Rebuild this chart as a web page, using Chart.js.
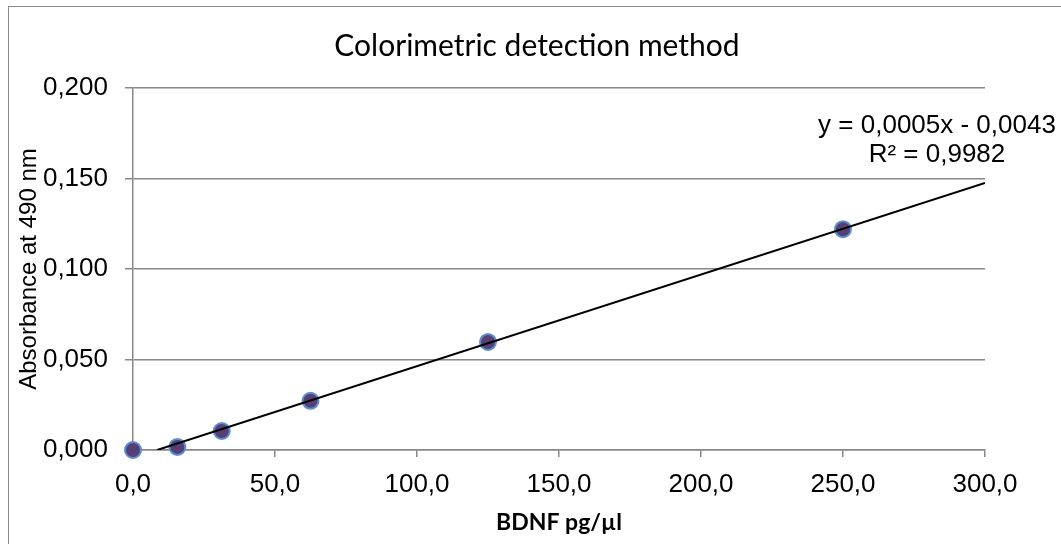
<!DOCTYPE html>
<html>
<head>
<meta charset="utf-8">
<script src="https://cdn.jsdelivr.net/npm/chart.js@4.4.1/dist/chart.umd.min.js"></script>
<style>
  html, body { margin: 0; padding: 0; background: #fff; }
  #wrap { width: 1061px; height: 544px; position: relative; }
</style>
</head>
<body>
<div id="wrap"><canvas id="chart" width="1061" height="544"></canvas></div>
<script>
// standard curve values
var concX = [0, 15.625, 31.25, 62.5, 125, 250];
var absY = [0, 0.0017, 0.0105, 0.0272, 0.0597, 0.122];
// trendline ends (as drawn in the picture)
var trendX = [8.5, 300];
var trendY = [0, 0.1475];
var chartTitle = 'Colorimetric detection method';
var eqLines = ['y = 0,0005x - 0,0043', 'R² = 0,9982'];
var xTitle = 'BDNF pg/µl';
var yTitle = 'Absorbance at 490 nm';

var gridGray = '#888888';

function toPts(xs, ys) {
  return xs.map(function (x, i) { return { x: x, y: ys[i] }; });
}

// draws the outer frame, the title and the trendline equation
var extras = {
  id: 'extras',
  afterDraw: function (chart) {
    var ctx = chart.ctx;
    ctx.save();
    ctx.strokeStyle = '#8c8c8c';
    ctx.lineWidth = 1;
    ctx.strokeRect(8.5, 6.5, 2000, 2000);

    ctx.fillStyle = '#000';
    ctx.textAlign = 'center';
    ctx.textBaseline = 'middle';
    ctx.font = '30px Lato';
    ctx.fillText(chartTitle, 537, 46);

    ctx.font = '26px "Liberation Sans"';
    ctx.fillText(eqLines[0], 937, 126);
    ctx.fillText(eqLines[1], 937, 155);
    ctx.restore();
  }
};

var ctx = document.getElementById('chart').getContext('2d');
var myChart = new Chart(ctx, {
  type: 'scatter',
  data: {
    datasets: [{
      type: 'line',
      label: 'trend',
      data: toPts(trendX, trendY),
      borderColor: '#000000',
      borderWidth: 2,
      pointRadius: 0,
      fill: false,
      order: 0
    }, {
      label: 'BDNF',
      data: toPts(concX, absY),
      backgroundColor: '#563f74',
      borderColor: '#5b8fd0',
      borderWidth: 2,
      pointRadius: 8,
      clip: false,
      order: 1
    }]
  },
  plugins: [extras],
  options: {
    responsive: false,
    animation: false,
    layout: { padding: { left: 0, right: 76, top: 88, bottom: 0 } },
    plugins: {
      legend: { display: false },
      tooltip: { enabled: false },
      title: { display: false }
    },
    scales: {
      x: {
        type: 'linear',
        min: 0, max: 300,
        afterFit: function (s) { s.height = 94; },
        ticks: {
          stepSize: 50,
          color: '#000',
          padding: 12,
          font: { family: 'Liberation Sans', size: 26 },
          callback: function (v) { return v.toFixed(1).replace('.', ','); }
        },
        grid: { drawOnChartArea: false, drawTicks: true, tickLength: 7, color: gridGray, lineWidth: 1.5 },
        border: { color: gridGray, width: 1.5 },
        title: {
          display: true, text: xTitle, color: '#000',
          font: { family: 'Lato', size: 23, weight: 'bold', lineHeight: 1 },
          padding: { top: 0, bottom: 10 }
        }
      },
      y: {
        min: 0, max: 0.2,
        afterFit: function (s) { s.width = 133; },
        ticks: {
          stepSize: 0.05,
          color: '#000',
          padding: 17,
          font: { family: 'Liberation Sans', size: 26 },
          callback: function (v) { return v.toFixed(3).replace('.', ','); }
        },
        grid: { color: gridGray, lineWidth: 1.5, tickLength: 8 },
        border: { color: gridGray, width: 1.5 },
        title: {
          display: true, text: yTitle, color: '#000',
          font: { family: 'Liberation Sans', size: 24, lineHeight: 1 },
          padding: { top: 17, bottom: 0 }
        }
      }
    }
  }
});
</script>
</body>
</html>
